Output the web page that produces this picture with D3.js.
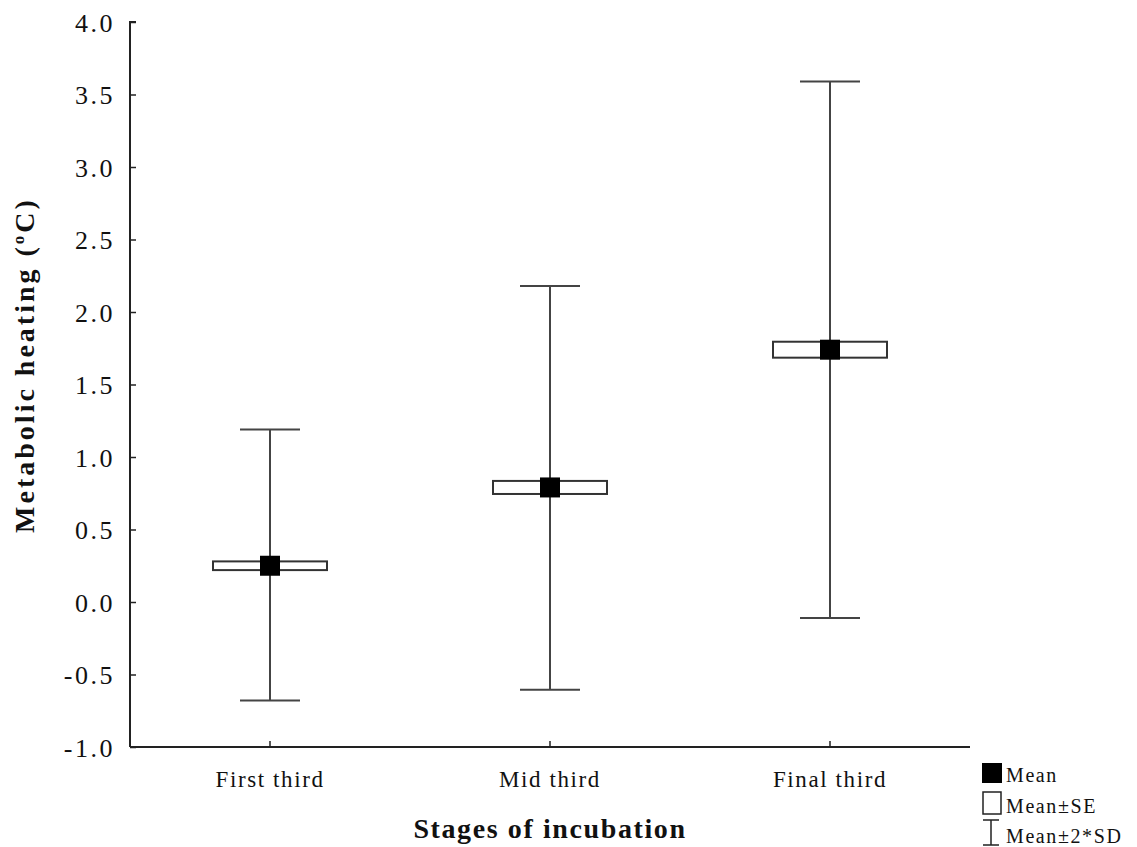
<!DOCTYPE html>
<html>
<head>
<meta charset="utf-8">
<script src="https://cdn.jsdelivr.net/npm/d3@7"></script>
<style>
  html, body { margin: 0; padding: 0; background: #fff; }
  svg text { font-family: "Liberation Serif", "Times New Roman", serif; fill: #111; }
</style>
</head>
<body>
<svg id="chart" width="1137" height="847"></svg>
<script>
// Metabolic heating by stage of incubation: mean, mean±SE, mean±2*SD
const stages = ["First third", "Mid third", "Final third"];
const means  = [0.25, 0.79, 1.74];
const seLow  = [0.22, 0.745, 1.685];
const seHigh = [0.28, 0.835, 1.795];
const sdLow  = [-0.68, -0.605, -0.11];
const sdHigh = [1.19, 2.18, 3.59];
const yTicks = [-1.0, -0.5, 0.0, 0.5, 1.0, 1.5, 2.0, 2.5, 3.0, 3.5, 4.0];

const serif = '"Liberation Serif", "Times New Roman", serif';
const svg = d3.select("#chart");
const plotLeft = 130, plotRight = 970, plotTop = 22, plotBottom = 747;

const x = d3.scaleBand().domain(stages).range([plotLeft, plotRight]).padding(0);
const y = d3.scaleLinear().domain([-1, 4]).range([plotBottom, plotTop]);
const cx = s => x(s) + x.bandwidth() / 2;

// Y axis with inward ticks
const yAxis = d3.axisRight(y).tickValues(yTicks).tickSize(6).tickFormat(d3.format(".1f"));
const gy = svg.append("g").attr("transform", `translate(${plotLeft},0)`).call(yAxis);
gy.attr("font-family", serif);
gy.select(".domain").attr("stroke", "#222").attr("stroke-width", 2).attr("d", `M6,${plotTop}H0V${plotBottom}`);
gy.selectAll(".tick line").attr("stroke", "#222").attr("stroke-width", 1.5);
gy.selectAll(".tick text")
  .attr("x", -15).attr("dy", "0.35em").attr("text-anchor", "end")
  .style("font-family", serif).style("font-size", "26px").style("letter-spacing", "2.5px")
  .text(d => d3.format(".1f")(d).replace("−", "-"));

// X axis with inward ticks
const xAxis = d3.axisTop(x).tickSize(6);
const gx = svg.append("g").attr("transform", `translate(0,${plotBottom})`).call(xAxis);
gx.attr("font-family", serif);
gx.select(".domain").attr("stroke", "#222").attr("stroke-width", 2).attr("d", `M${plotLeft},0H${plotRight}`);
gx.selectAll(".tick line").attr("stroke", "#222").attr("stroke-width", 1.5);
gx.selectAll(".tick text").attr("y", 40).attr("dy", "0")
  .style("font-family", serif).style("font-size", "23px").style("letter-spacing", "1.6px");

// Axis titles
svg.append("text")
  .attr("x", cx("Mid third")).attr("y", 838).attr("text-anchor", "middle")
  .style("font-size", "28px").style("font-weight", "bold").style("letter-spacing", "1.6px")
  .text("Stages of incubation");

const yl = svg.append("text")
  .attr("transform", "translate(34,365) rotate(-90)")
  .attr("text-anchor", "middle")
  .style("font-size", "28px").style("font-weight", "bold").style("letter-spacing", "3px");
yl.append("tspan").text("Metabolic heating (");
yl.append("tspan").attr("dy", -10).style("font-size", "17px").text("o");
yl.append("tspan").attr("dy", 10).text("C)");

const data = stages.map((s, i) => ({ s, m: means[i], lo: seLow[i], hi: seHigh[i], sl: sdLow[i], sh: sdHigh[i] }));
const g = svg.append("g");

// Whiskers (mean ± 2*SD)
g.selectAll("line.whisker").data(data).join("line")
  .attr("x1", d => cx(d.s)).attr("x2", d => cx(d.s))
  .attr("y1", d => y(d.sh)).attr("y2", d => y(d.sl))
  .attr("stroke", "#444").attr("stroke-width", 2);
["sh", "sl"].forEach(k => {
  g.selectAll("line.cap-" + k).data(data).join("line")
    .attr("x1", d => cx(d.s) - 30).attr("x2", d => cx(d.s) + 30)
    .attr("y1", d => y(d[k])).attr("y2", d => y(d[k]))
    .attr("stroke", "#444").attr("stroke-width", 2);
});

// SE boxes
g.selectAll("rect.se").data(data).join("rect")
  .attr("x", d => cx(d.s) - 57).attr("width", 114)
  .attr("y", d => y(d.hi)).attr("height", d => y(d.lo) - y(d.hi))
  .attr("fill", "#fff").attr("stroke", "#333").attr("stroke-width", 2);

// Mean markers
g.selectAll("rect.mean").data(data).join("rect")
  .attr("x", d => cx(d.s) - 10).attr("y", d => y(d.m) - 10)
  .attr("width", 20).attr("height", 20).attr("fill", "#000");

// Legend
const lg = svg.append("g").style("font-size", "20px").style("letter-spacing", "1.6px");
lg.append("rect").attr("x", 982).attr("y", 763).attr("width", 20).attr("height", 20).attr("fill", "#000");
lg.append("text").attr("x", 1006).attr("y", 782).text("Mean");
lg.append("rect").attr("x", 983).attr("y", 792).attr("width", 18).attr("height", 22)
  .attr("fill", "#fff").attr("stroke", "#222").attr("stroke-width", 1.5);
lg.append("text").attr("x", 1006).attr("y", 813).text("Mean±SE");
lg.append("path").attr("d", "M983,820H999M991,820V845M983,845H999")
  .attr("stroke", "#222").attr("stroke-width", 1.5).attr("fill", "none");
lg.append("text").attr("x", 1006).attr("y", 843).text("Mean±2*SD");
</script>
</body>
</html>
